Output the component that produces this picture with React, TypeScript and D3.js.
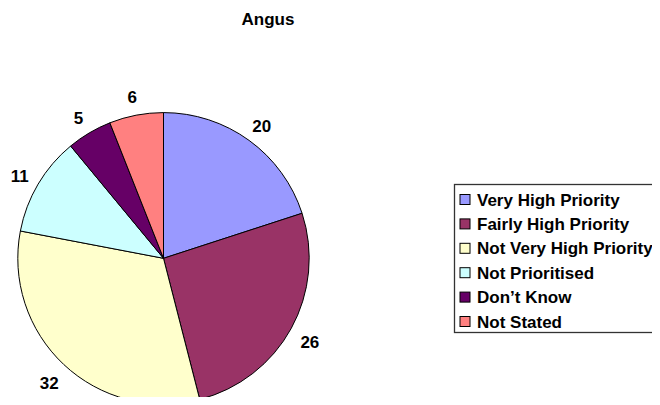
import React from "react";
import * as d3 from "d3";

const title = "Angus";
const categories = [
  "Very High Priority",
  "Fairly High Priority",
  "Not Very High Priority",
  "Not Prioritised",
  "Don\u2019t Know",
  "Not Stated",
];
const values = [20, 26, 32, 11, 5, 6];
const colors = ["#9999FF", "#993366", "#FFFFCC", "#CCFFFF", "#660066", "#FF8080"];

const W = 660;
const H = 405;
const FONT = "'Liberation Sans', Arial, Helvetica, sans-serif";
const FS = 17;

export default function App() {
  const cx = 163.5;
  const cy = 258.3;
  const r = 145.7;
  const labelR = 167;

  const pie = d3.pie<number>().sort(null).value((d) => d);
  const arcs = pie(values);
  const arc = d3.arc<d3.PieArcDatum<number>>().innerRadius(0).outerRadius(r);
  const labelArc = d3
    .arc<d3.PieArcDatum<number>>()
    .innerRadius(labelR)
    .outerRadius(labelR);

  const legendX = 454.5;
  const legendY = 184.5;
  const legendW = 210;
  const legendH = 148;
  const rowY = d3
    .scalePoint<number>()
    .domain(d3.range(categories.length))
    .range([205.5, 327.5]);

  return (
    <div style={{ margin: -8 }}>
      <svg width={W} height={H} style={{ display: "block", background: "#fff" }}>
        <text
          x={268}
          y={25}
          textAnchor="middle"
          fontFamily={FONT}
          fontWeight="bold"
          fontSize={FS}
          fill="#000"
        >
          {title}
        </text>
        <g transform={`translate(${cx},${cy})`}>
          {arcs.map((a, i) => (
            <path
              key={i}
              d={arc(a) || ""}
              fill={colors[i]}
              stroke="#000"
              strokeWidth={1}
              strokeLinejoin="round"
            />
          ))}
          {arcs.map((a, i) => {
            const [lx, ly] = labelArc.centroid(a);
            return (
              <text
                key={"l" + i}
                x={lx}
                y={ly + 3}
                dy="0.35em"
                textAnchor="middle"
                fontFamily={FONT}
                fontWeight="bold"
                fontSize={FS}
                fill="#000"
              >
                {values[i]}
              </text>
            );
          })}
        </g>
        <rect
          x={legendX}
          y={legendY}
          width={legendW}
          height={legendH}
          fill="#fff"
          stroke="#333"
          strokeWidth={1.3}
        />
        {categories.map((c, i) => {
          const by = rowY(i) as number;
          return (
            <g key={c}>
              <rect
                x={460}
                y={by - 11}
                width={10}
                height={10}
                fill={colors[i]}
                stroke="#000"
                strokeWidth={1}
              />
              <text
                x={477}
                y={by}
                fontFamily={FONT}
                fontWeight="bold"
                fontSize={FS}
                fill="#000"
              >
                {c}
              </text>
            </g>
          );
        })}
      </svg>
    </div>
  );
}
